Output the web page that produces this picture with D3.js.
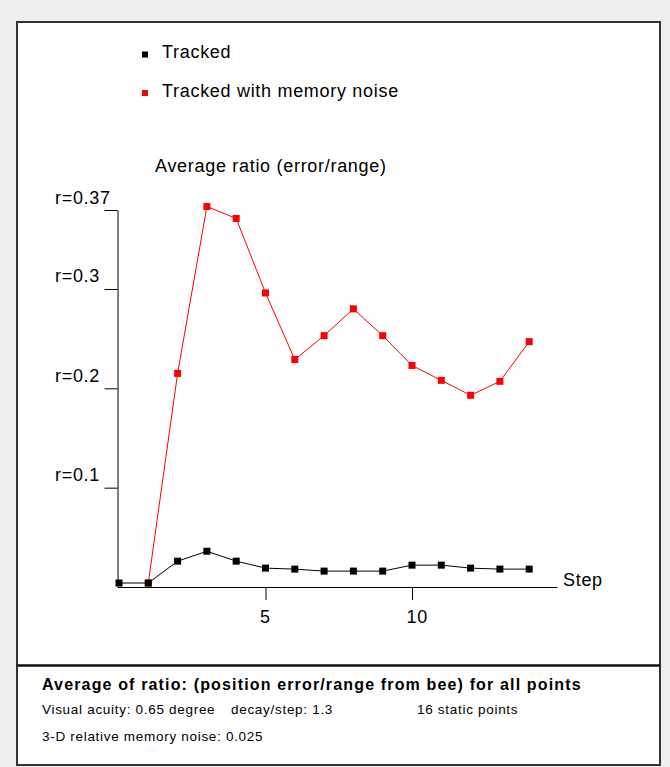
<!DOCTYPE html>
<html>
<head>
<meta charset="utf-8">
<script src="https://cdn.jsdelivr.net/npm/d3@7"></script>
<style>
  html, body { margin: 0; padding: 0; background: #eeeeee; }
  svg { display: block; }
</style>
</head>
<body>
<script>
// ---- data ----
const steps = [0, 1, 2, 3, 4, 5, 6, 7, 8, 9, 10, 11, 12, 13, 14];
const tracked = [0.004, 0.004, 0.026, 0.036, 0.026, 0.019, 0.018, 0.016, 0.016, 0.016, 0.022, 0.022, 0.019, 0.018, 0.018];
const trackedNoise = [null, 0.004, 0.215, 0.383, 0.371, 0.296, 0.229, 0.253, 0.280, 0.253, 0.223, 0.208, 0.193, 0.207, 0.247];
const seriesNames = ["Tracked", "Tracked with memory noise"];
const seriesColors = ["#000000", "#ff0000"];
const yTickValues = [0.1, 0.2, 0.3, 0.3795];
const yTickLabels = ["r=0.1", "r=0.2", "r=0.3", "r=0.37"];
const xTickValues = [5, 10];
const xTickLabels = ["5", "10"];
const yTitle = "Average ratio (error/range)";
const xTitle = "Step";
const footerTitle = "Average of ratio: (position error/range from bee) for all points";
const footerLines = [
  { text: "Visual acuity: 0.65 degree", col: 0, row: 0 },
  { text: "decay/step: 1.3", col: 1, row: 0 },
  { text: "16 static points", col: 2, row: 0 },
  { text: "3-D relative memory noise: 0.025", col: 0, row: 1 }
];

// ---- layout ----
const W = 670, H = 767;
const svg = d3.select("body").append("svg").attr("width", W).attr("height", H);
const FONT = "'Liberation Sans', Arial, sans-serif";
const FS = 18, LS = 0.7;

svg.append("rect").attr("x", 0).attr("y", 0).attr("width", W).attr("height", H).attr("fill", "#eeeeee");
svg.append("rect").attr("x", 17).attr("y", 22).attr("width", 643).attr("height", 743)
  .attr("fill", "#ffffff").attr("stroke", "#333").attr("stroke-width", 2);
svg.append("line").attr("x1", 17).attr("x2", 660).attr("y1", 665.5).attr("y2", 665.5)
  .attr("stroke", "#111").attr("stroke-width", 2.5);

const x = d3.scaleLinear().domain([0, 14]).range([119, 119 + 14 * 29.3]);
const y = d3.scaleLinear().domain([0, yTickValues[3]]).range([587, 210]);

function styleText(sel, size, ls) {
  return sel.attr("font-family", FONT).attr("font-size", size).attr("letter-spacing", ls).attr("fill", "#000");
}

// x axis
const xAxisScale = x.copy().domain([-0.05, 14.95]).range([x(-0.05), x(14.95)]);
const gx = svg.append("g").attr("transform", `translate(0,${y(0)})`)
  .call(d3.axisBottom(xAxisScale).tickValues(xTickValues)
    .tickFormat((d, i) => xTickLabels[i]).tickSize(13).tickSizeOuter(0));
gx.select(".domain").attr("stroke", "#000");
gx.selectAll(".tick line").attr("stroke", "#000");
styleText(gx.selectAll(".tick text"), FS, LS)
  .attr("text-anchor", "start").attr("x", -6).attr("y", 36).attr("dy", null);

// y axis
const gy = svg.append("g").attr("transform", `translate(${xAxisScale.range()[0]},0)`)
  .call(d3.axisLeft(y).tickValues(yTickValues)
    .tickFormat((d, i) => yTickLabels[i]).tickSize(13).tickSizeOuter(0));
gy.select(".domain").attr("stroke", "#000");
gy.selectAll(".tick line").attr("stroke", "#000");
styleText(gy.selectAll(".tick text"), FS, LS)
  .attr("text-anchor", "start").attr("x", 55 - xAxisScale.range()[0]).attr("y", -7).attr("dy", null);

// titles
styleText(svg.append("text").attr("x", 155).attr("y", 172), FS, LS).text(yTitle);
styleText(svg.append("text").attr("x", 563).attr("y", 586), FS, LS).text(xTitle);

// legend
const leg = svg.append("g");
seriesNames.forEach((n, i) => {
  const cy = 54.5 + i * 38.5;
  leg.append("rect").attr("x", 142).attr("y", cy - 3).attr("width", 6).attr("height", 6).attr("fill", seriesColors[i]);
  styleText(leg.append("text").attr("x", 162).attr("y", cy + 3.5), FS, LS).text(n);
});

// series (red first, black on top)
const allSeries = [tracked, trackedNoise];
[1, 0].forEach(si => {
  const vals = allSeries[si];
  const pts = steps.map((s, i) => [s, vals[i]]).filter(d => d[1] != null);
  const line = d3.line().x(d => x(d[0])).y(d => y(d[1]));
  svg.append("path").attr("d", line(pts)).attr("fill", "none")
    .attr("stroke", seriesColors[si]).attr("stroke-width", 1);
  svg.append("g").selectAll("rect").data(pts).join("rect")
    .attr("x", d => x(d[0]) - 3.5).attr("y", d => y(d[1]) - 3.5)
    .attr("width", 7).attr("height", 7).attr("fill", seriesColors[si]);
});

// footer
styleText(svg.append("text").attr("x", 42).attr("y", 690), 16, 1.15)
  .attr("font-weight", "bold").text(footerTitle);
const colX = [42, 231, 417];
footerLines.forEach(f => {
  styleText(svg.append("text").attr("x", colX[f.col]).attr("y", 714 + f.row * 27), 13.5, 0.7).text(f.text);
});
</script>
</body>
</html>
